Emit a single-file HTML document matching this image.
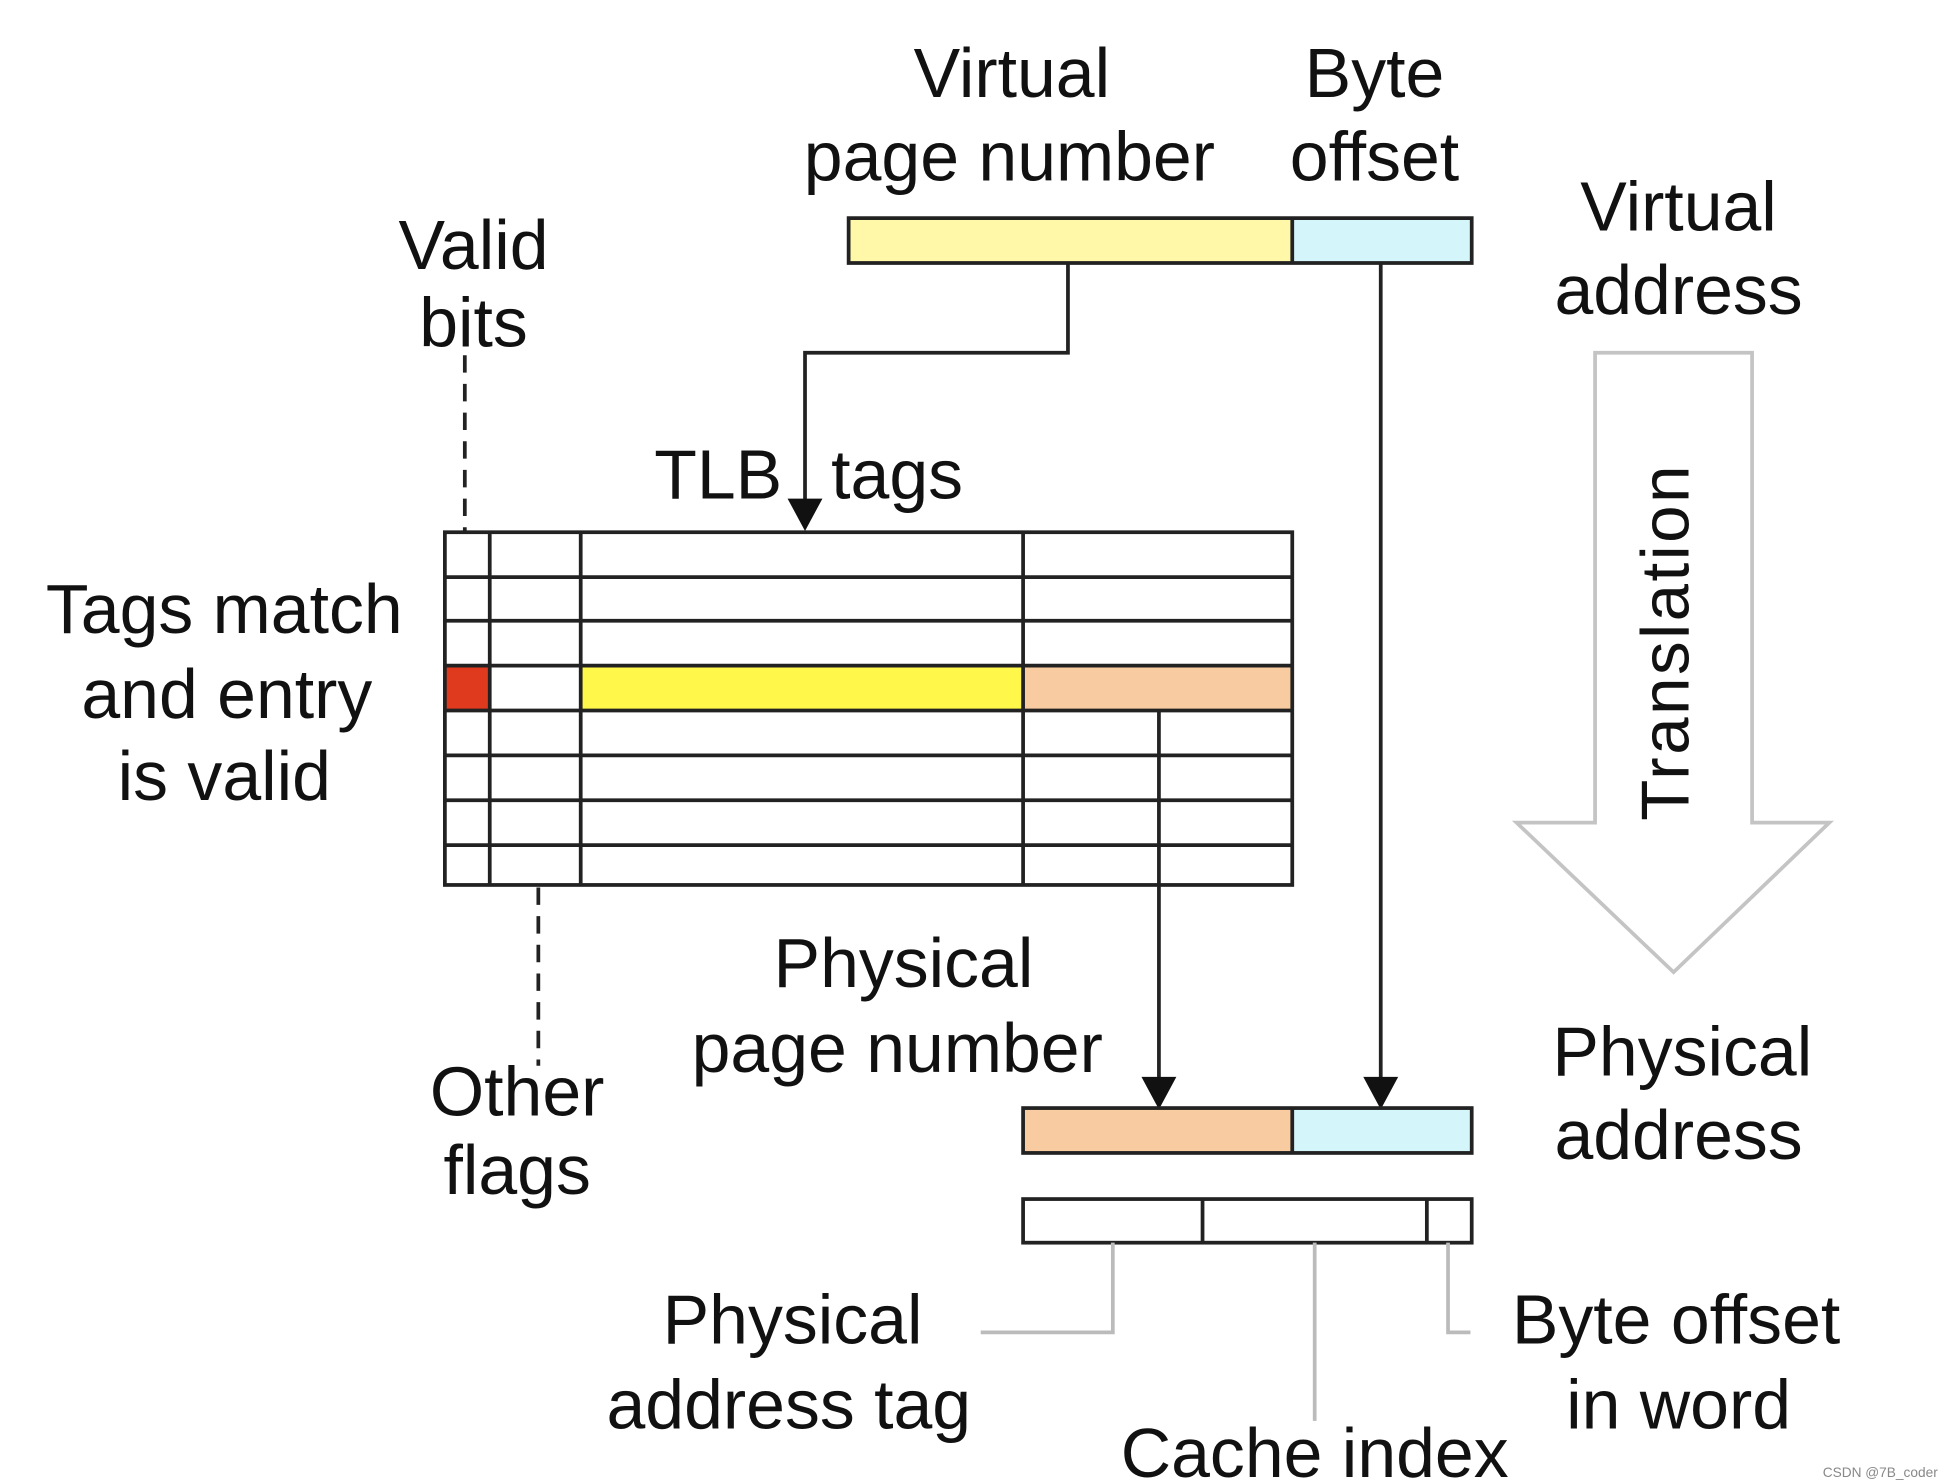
<!DOCTYPE html>
<html><head><meta charset="utf-8"><style>html,body{margin:0;padding:0;background:#fff}svg{display:block}</style></head><body>
<svg width="1944" height="1482" viewBox="0 0 1560 1189" preserveAspectRatio="none" xmlns="http://www.w3.org/2000/svg" font-family="Liberation Sans, Arial, sans-serif" font-size="56" fill="#111">
<!-- virtual address bar -->
<rect x="681" y="175" width="356" height="36" fill="#fff8a8"/>
<rect x="1037" y="175" width="144" height="36" fill="#d4f6fa"/>
<rect x="681" y="175" width="500" height="36" fill="none" stroke="#222" stroke-width="3"/>
<line x1="1037" y1="175" x2="1037" y2="211" stroke="#222" stroke-width="3"/>
<g text-anchor="middle">
<text x="812" y="78">Virtual</text>
<text x="810" y="145">page number</text>
<text x="1103" y="78">Byte</text>
<text x="1103" y="145">offset</text>
<text x="1347" y="185">Virtual</text>
<text x="1347" y="252">address</text>
<text x="380" y="216">Valid</text>
<text x="380" y="278">bits</text>
<text x="180" y="508">Tags match</text>
<text x="182" y="576">and entry</text>
<text x="180" y="642">is valid</text>
<text x="725" y="792">Physical</text>
<text x="720" y="860">page number</text>
<text x="415" y="895">Other</text>
<text x="415" y="958">flags</text>
<text x="1350" y="863">Physical</text>
<text x="1347" y="930">address</text>
<text x="636" y="1078">Physical</text>
<text x="633" y="1146">address tag</text>
<text x="1055" y="1185">Cache index</text>
<text x="1345" y="1078">Byte offset</text>
<text x="1347" y="1146">in word</text>
</g>
<text x="525" y="400">TLB</text>
<text x="667" y="400">tags</text>
<!-- dashed -->
<line x1="373" y1="285" x2="373" y2="427" stroke="#222" stroke-width="3" stroke-dasharray="14,9"/>
<line x1="432" y1="712" x2="432" y2="855" stroke="#222" stroke-width="3" stroke-dasharray="14,9"/>
<!-- table -->
<rect x="357" y="534" width="36" height="36" fill="#e03a1e"/>
<rect x="466" y="534" width="355" height="36" fill="#fff84a"/>
<rect x="821" y="534" width="216" height="36" fill="#f8cca0"/>
<g stroke="#222" stroke-width="3" fill="none">
<rect x="357" y="427" width="680" height="283"/>
<line x1="393" y1="427" x2="393" y2="710"/>
<line x1="466" y1="427" x2="466" y2="710"/>
<line x1="821" y1="427" x2="821" y2="710"/>
<line x1="357" y1="463" x2="1037" y2="463"/>
<line x1="357" y1="498" x2="1037" y2="498"/>
<line x1="357" y1="534" x2="1037" y2="534"/>
<line x1="357" y1="570" x2="1037" y2="570"/>
<line x1="357" y1="606" x2="1037" y2="606"/>
<line x1="357" y1="642" x2="1037" y2="642"/>
<line x1="357" y1="678" x2="1037" y2="678"/>
<!-- connectors -->
<polyline points="857,211 857,283 646,283 646,402"/>
<line x1="930" y1="570" x2="930" y2="866"/>
<line x1="1108" y1="211" x2="1108" y2="866"/>
</g>
<polygon points="632,400 660,400 646,426" fill="#111"/>
<polygon points="916,864 944,864 930,890" fill="#111"/>
<polygon points="1094,864 1122,864 1108,890" fill="#111"/>
<!-- physical address -->
<rect x="821" y="889" width="216" height="36" fill="#f8cca0"/>
<rect x="1037" y="889" width="144" height="36" fill="#d4f6fa"/>
<g stroke="#222" stroke-width="3" fill="none">
<rect x="821" y="889" width="360" height="36"/>
<line x1="1037" y1="889" x2="1037" y2="925"/>
<rect x="821" y="962" width="360" height="35"/>
<line x1="965" y1="962" x2="965" y2="997"/>
<line x1="1145" y1="962" x2="1145" y2="997"/>
</g>
<g stroke="#bbb" stroke-width="3" fill="none">
<polyline points="893,997 893,1069 787,1069"/>
<line x1="1055" y1="997" x2="1055" y2="1140"/>
<polyline points="1162,997 1162,1069 1180,1069"/>
<polygon points="1280,283 1406,283 1406,660 1468,660 1343,780 1217,660 1280,660" stroke="#c4c4c4"/>
</g>
<text x="0" y="0" transform="translate(1355,515) rotate(-90)" text-anchor="middle" font-size="54" letter-spacing="2">Translation</text>
<text x="1555" y="1185" text-anchor="end" font-size="11" fill="#888">CSDN @7B_coder</text>
</svg>
</body></html>
